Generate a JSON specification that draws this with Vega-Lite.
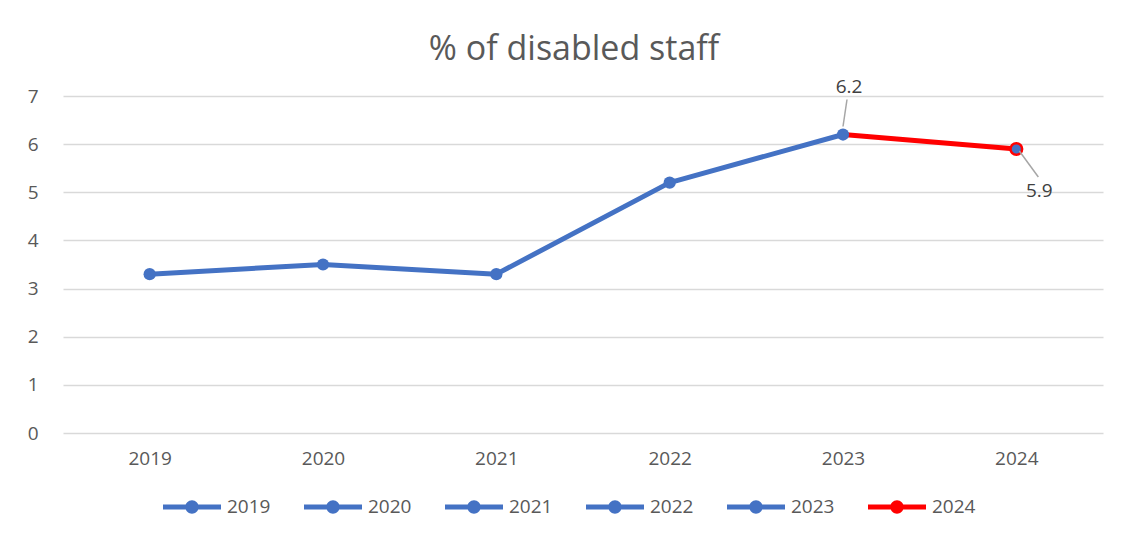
{
  "$schema": "https://vega.github.io/schema/vega-lite/v6.json",
  "width": 1040,
  "height": 337,
  "autosize": {"type": "none"},
  "padding": {"left": 63, "top": 96, "right": 22, "bottom": 104},
  "background": "white",
  "title": {"text": "% of disabled staff", "fontSize": 34, "font": "Open Sans", "fontWeight": "normal", "color": "#595959", "anchor": "middle", "dx": -9, "offset": 11},
  "datasets": {
    "pts": [
      {"year": "2019", "value": 3.3},
      {"year": "2020", "value": 3.5},
      {"year": "2021", "value": 3.3},
      {"year": "2022", "value": 5.2},
      {"year": "2023", "value": 6.2},
      {"year": "2024", "value": 5.9}
    ],
    "segs": [
      {"year": "2019", "value": 3.3, "seg": "main"},
      {"year": "2020", "value": 3.5, "seg": "main"},
      {"year": "2021", "value": 3.3, "seg": "main"},
      {"year": "2022", "value": 5.2, "seg": "main"},
      {"year": "2023", "value": 6.2, "seg": "main"},
      {"year": "2023", "value": 6.2, "seg": "last"},
      {"year": "2024", "value": 5.9, "seg": "last"}
    ]
  },
  "encoding": {
    "x": {"field": "year", "type": "ordinal", "scale": {"type": "point", "padding": 0.5},
      "axis": {"title": null, "labelAngle": 0, "domain": false, "ticks": false, "labelPadding": 16, "labelFontSize": 19, "labelColor": "#595959", "labelFont": "Open Sans"}},
    "y": {"field": "value", "type": "quantitative", "scale": {"domain": [0, 7], "nice": false},
      "axis": {"title": null, "values": [0,1,2,3,4,5,6,7], "domain": false, "ticks": false, "grid": true, "gridColor": "#D9D9D9", "gridWidth": 1.3, "labelPadding": 25, "labelFontSize": 19, "labelColor": "#595959", "labelFont": "Open Sans"}}
  },
  "layer": [
    {
      "data": {"name": "segs"},
      "mark": {"type": "line", "strokeWidth": 5, "strokeCap": "round", "strokeJoin": "round"},
      "encoding": {
        "detail": {"field": "seg"},
        "stroke": {"field": "seg", "type": "nominal", "scale": {"domain": ["main", "last"], "range": ["#4472C4", "#FF0000"]}, "legend": null}
      }
    },
    {
      "data": {"name": "pts"},
      "mark": {"type": "point", "filled": true, "size": 150, "opacity": 1},
      "encoding": {
        "color": {"field": "year", "type": "nominal",
          "scale": {"domain": ["2019","2020","2021","2022","2023","2024"], "range": ["#4472C4","#4472C4","#4472C4","#4472C4","#4472C4","#FF0000"]},
          "legend": {"title": null, "orient": "none", "direction": "horizontal", "legendX": 100, "legendY": 382,
            "symbolType": "M-1,-0.09H-0.2V0.09H-1Z M0.2,-0.09H1V0.09H0.2Z M-0.23,0A0.23,0.23 0 1,1 0.23,0A0.23,0.23 0 1,1 -0.23,0Z",
            "symbolSize": 3364, "symbolStrokeWidth": 0, "labelFontSize": 19, "labelColor": "#595959", "labelFont": "Open Sans", "labelOffset": 6, "columnPadding": 33}}
      }
    },
    {
      "data": {"name": "pts"},
      "transform": [{"filter": "datum.year === '2024'"}],
      "mark": {"type": "point", "filled": true, "size": 135, "fill": "#4472C4", "stroke": "#FF0000", "strokeWidth": 2.5, "opacity": 1}
    },
    {
      "data": {"name": "pts"},
      "transform": [{"filter": "datum.year === '2023'"}],
      "mark": {"type": "rule", "color": "#A6A6A6", "strokeWidth": 1.5, "xOffset": 4, "x2Offset": 0, "yOffset": -35, "y2Offset": -8},
      "encoding": {"x2": {"field": "year"}, "y2": {"field": "value"}}
    },
    {
      "data": {"name": "pts"},
      "transform": [{"filter": "datum.year === '2024'"}],
      "mark": {"type": "rule", "color": "#A6A6A6", "strokeWidth": 1.5, "xOffset": 3, "x2Offset": 22, "yOffset": 2, "y2Offset": 28},
      "encoding": {"x2": {"field": "year"}, "y2": {"field": "value"}}
    },
    {
      "data": {"name": "pts"},
      "transform": [{"filter": "datum.year === '2023'"}],
      "mark": {"type": "text", "dx": 6, "dy": -48, "fontSize": 19, "font": "Open Sans", "color": "#404040"},
      "encoding": {"text": {"field": "value", "type": "quantitative", "format": ".1f"}}
    },
    {
      "data": {"name": "pts"},
      "transform": [{"filter": "datum.year === '2024'"}],
      "mark": {"type": "text", "dx": 23, "dy": 42, "fontSize": 19, "font": "Open Sans", "color": "#404040"},
      "encoding": {"text": {"field": "value", "type": "quantitative", "format": ".1f"}}
    }
  ],
  "config": {"view": {"stroke": null}}
}
